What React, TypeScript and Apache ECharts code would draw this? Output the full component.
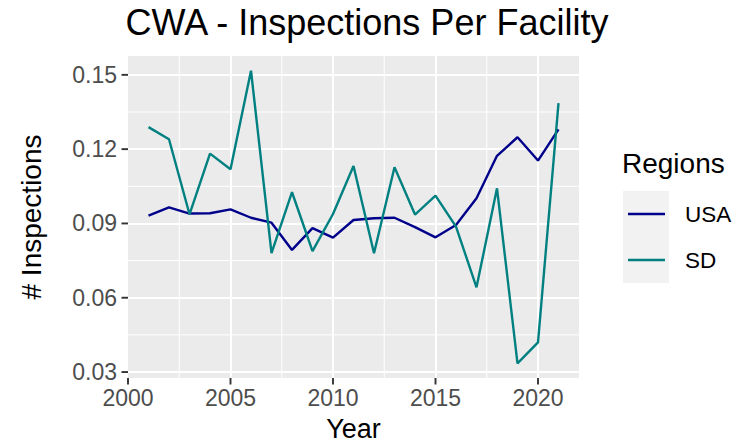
import { useEffect, useRef } from 'react';
import * as echarts from 'echarts';

const years = [2001, 2002, 2003, 2004, 2005, 2006, 2007, 2008, 2009, 2010, 2011, 2012, 2013, 2014, 2015, 2016, 2017, 2018, 2019, 2020, 2021];
const usaValues = [0.0932, 0.0965, 0.0940, 0.0941, 0.0957, 0.0923, 0.0903, 0.0793, 0.0881, 0.0843, 0.0914, 0.0921, 0.0923, 0.0885, 0.0844, 0.0894, 0.1002, 0.1173, 0.1248, 0.1154, 0.1280];
const sdValues = [0.1289, 0.1240, 0.0937, 0.1182, 0.1119, 0.1517, 0.0780, 0.1026, 0.0788, 0.0938, 0.1132, 0.0780, 0.1127, 0.0936, 0.1012, 0.0887, 0.0642, 0.1042, 0.0335, 0.0420, 0.1386];
const seriesNames = ['USA', 'SD'];
const seriesColors = ['#00008B', '#008080'];
const xBreaks = [2000, 2005, 2010, 2015, 2020];
const xMinorBreaks = [2002.5, 2007.5, 2012.5, 2017.5];
const yBreaks = [0.03, 0.06, 0.09, 0.12, 0.15];
const yMinorBreaks = [0.045, 0.075, 0.105, 0.135];

const FONT = 'Liberation Sans';

export default function App() {
  const ref = useRef<HTMLDivElement>(null);
  useEffect(() => {
    document.body.style.margin = '0';
    const chart = echarts.init(ref.current!, null, { renderer: 'svg' });
    const all = [...usaValues, ...sdValues];
    const lo0 = Math.min(...all);
    const hi0 = Math.max(...all);
    const yPad = (hi0 - lo0) * 0.05;
    const yLo = lo0 - yPad;
    const yHi = hi0 + yPad;
    const x0 = years[0];
    const x1 = years[years.length - 1];
    const xPad = (x1 - x0) * 0.05;
    const xLo = x0 - xPad;
    const xHi = x1 + xPad;

    const minorX = {
      type: 'custom', silent: true, z: 1, clip: true,
      data: xMinorBreaks.map((v) => [v, yLo]),
      renderItem: (params: any, api: any) => {
        const cs = params.coordSys;
        const p = api.coord([api.value(0), api.value(1)]);
        return { type: 'line', shape: { x1: p[0], y1: cs.y, x2: p[0], y2: cs.y + cs.height }, style: { stroke: '#FFFFFF', lineWidth: 1 } };
      },
    };
    const minorY = {
      type: 'custom', silent: true, z: 1, clip: true,
      data: yMinorBreaks.map((v) => [xLo, v]),
      renderItem: (params: any, api: any) => {
        const cs = params.coordSys;
        const p = api.coord([api.value(0), api.value(1)]);
        return { type: 'line', shape: { x1: cs.x, y1: p[1], x2: cs.x + cs.width, y2: p[1] }, style: { stroke: '#FFFFFF', lineWidth: 1 } };
      },
    };
    const ticksX = {
      type: 'custom', silent: true, z: 3, clip: false,
      data: xBreaks.map((v) => [v, yLo]),
      renderItem: (params: any, api: any) => {
        const p = api.coord([api.value(0), api.value(1)]);
        return { type: 'line', shape: { x1: p[0], y1: p[1], x2: p[0], y2: p[1] + 6.5 }, style: { stroke: '#333333', lineWidth: 1.9 } };
      },
    };
    const ticksY = {
      type: 'custom', silent: true, z: 3, clip: false,
      data: yBreaks.map((v) => [xLo, v]),
      renderItem: (params: any, api: any) => {
        const p = api.coord([api.value(0), api.value(1)]);
        return { type: 'line', shape: { x1: p[0] - 6.5, y1: p[1], x2: p[0], y2: p[1] }, style: { stroke: '#333333', lineWidth: 1.9 } };
      },
    };

    const valueSeries = [usaValues, sdValues].map((vals, i) => ({
      type: 'line',
      name: seriesNames[i],
      data: years.map((y, j) => [y, vals[j]]),
      showSymbol: false,
      symbol: 'none',
      color: seriesColors[i],
      lineStyle: { color: seriesColors[i], width: 2.4 },
      z: 2,
      silent: true,
    }));

    chart.setOption({
      animation: false,
      backgroundColor: '#FFFFFF',
      grid: {
        left: 128, top: 56, width: 451, height: 322,
        show: true, backgroundColor: '#EBEBEB', borderWidth: 0,
        containLabel: false, outerBoundsMode: 'none',
      },
      xAxis: {
        type: 'value', min: xLo, max: xHi, interval: 5,
        axisLine: { show: false },
        axisTick: { show: false },
        axisLabel: {
          show: true, showMinLabel: true, showMaxLabel: false,
          color: '#4D4D4D', fontFamily: FONT, fontSize: 23, lineHeight: 23, margin: 8.5,
          formatter: (v: number) => String(v),
        },
        splitLine: { show: true, showMinLine: false, showMaxLine: false, lineStyle: { color: '#FFFFFF', width: 2 } },
      },
      yAxis: {
        type: 'value', min: yLo, max: yHi,
        axisLine: { show: false },
        axisTick: { show: false },
        axisLabel: {
          show: true, showMinLabel: false, showMaxLabel: false,
          color: '#4D4D4D', fontFamily: FONT, fontSize: 23, lineHeight: 23, margin: 11,
          formatter: (v: number) => v.toFixed(2),
        },
        splitLine: { show: true, showMinLine: false, showMaxLine: false, lineStyle: { color: '#FFFFFF', width: 2 } },
      },
      legend: {
        data: seriesNames,
        orient: 'vertical',
        left: 628, top: 191,
        padding: 0,
        itemGap: 0,
        itemWidth: 37, itemHeight: 2.5,
        icon: 'rect',
        selectedMode: false,
        textStyle: { color: '#000000', fontFamily: FONT, fontSize: 22.5, lineHeight: 46, padding: [0, 0, 0, 15] },
      },
      graphic: [
        { type: 'rect', z: 0, shape: { x: 623, y: 191, width: 46, height: 92 }, style: { fill: '#F2F2F2' } },
        { type: 'text', x: 367, y: 22.5, style: { text: 'CWA - Inspections Per Facility', fill: '#000000', font: `36px "${FONT}"`, align: 'center', verticalAlign: 'middle' } },
        { type: 'text', x: 353.5, y: 428.5, style: { text: 'Year', fill: '#000000', font: `27px "${FONT}"`, align: 'center', verticalAlign: 'middle' } },
        { type: 'text', x: 31, y: 217, rotation: Math.PI / 2, style: { text: '# Inspections', fill: '#000000', font: `28px "${FONT}"`, align: 'center', verticalAlign: 'middle' } },
        { type: 'text', x: 622, y: 163.5, style: { text: 'Regions', fill: '#000000', font: `28px "${FONT}"`, align: 'left', verticalAlign: 'middle' } },
      ],
      series: [minorX, minorY, ...valueSeries, ticksX, ticksY],
    });
    return () => chart.dispose();
  }, []);
  return <div ref={ref} style={{ width: 755, height: 445 }} />;
}
